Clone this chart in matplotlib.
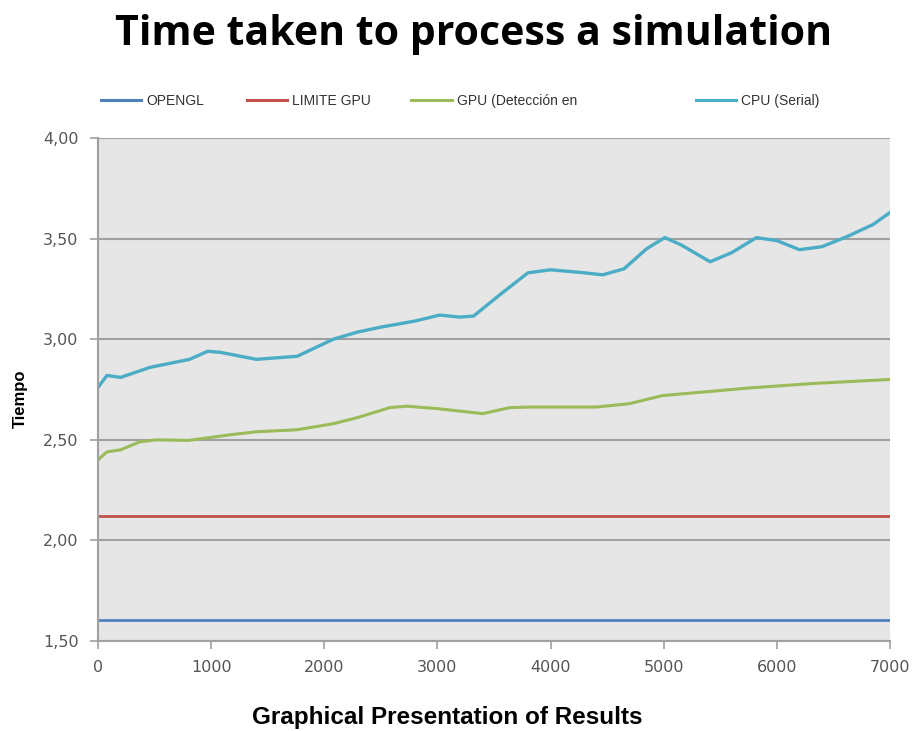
import matplotlib
matplotlib.use("Agg")
import matplotlib.pyplot as plt
from matplotlib.lines import Line2D
from matplotlib.ticker import FuncFormatter

# data
x_cpu = [0, 80, 200, 460, 810, 970, 1080, 1400, 1760, 2080, 2290, 2500, 2800,
         3020, 3200, 3320, 3550, 3800, 4000, 4300, 4460, 4650, 4850, 5010,
         5150, 5410, 5600, 5820, 6000, 6200, 6400, 6620, 6850, 7000]
cpu_serial = [2.76, 2.82, 2.81, 2.86, 2.90, 2.94, 2.935, 2.90, 2.915, 3.00,
              3.035, 3.06, 3.09, 3.12, 3.11, 3.115, 3.22, 3.33, 3.345, 3.33,
              3.32, 3.35, 3.45, 3.505, 3.47, 3.385, 3.43, 3.505, 3.49, 3.445,
              3.46, 3.51, 3.57, 3.63]

x_gpu = [0, 80, 200, 370, 520, 800, 1170, 1400, 1760, 2080, 2290, 2580,
         2730, 3000, 3400, 3640, 3820, 4410, 4700, 4990, 5400, 5740, 6320,
         7000]
gpu_deteccion = [2.40, 2.44, 2.45, 2.49, 2.50, 2.497, 2.525, 2.54, 2.55,
                 2.58, 2.61, 2.66, 2.667, 2.655, 2.63, 2.66, 2.663, 2.663,
                 2.68, 2.72, 2.74, 2.757, 2.78, 2.80]

x_const = [0, 7000]
limite_gpu = [2.12, 2.12]
opengl = [1.605, 1.605]

labels = ["OPENGL", "LIMITE GPU", "GPU (Detección en", "CPU (Serial)"]
colors = ["#4f81bd", "#c0504d", "#9bbb59", "#4bacc6"]

fig = plt.figure(figsize=(9.15, 7.31), dpi=100)
ax = fig.add_axes([0.107, 0.1231, 0.8657, 0.6881])

ax.set_facecolor("#e6e6e6")
ax.plot(x_const, opengl, color=colors[0], linewidth=2.0)
ax.plot(x_const, limite_gpu, color=colors[1], linewidth=2.0)
ax.plot(x_gpu, gpu_deteccion, color=colors[2], linewidth=2.2,
        solid_joinstyle="round")
ax.plot(x_cpu, cpu_serial, color=colors[3], linewidth=2.4,
        solid_joinstyle="round")

ax.set_xlim(0, 7000)
ax.set_ylim(1.5, 4.0)
ax.set_xticks(range(0, 7001, 1000))
ax.set_yticks([1.5, 2.0, 2.5, 3.0, 3.5, 4.0])
ax.yaxis.set_major_formatter(FuncFormatter(lambda v, p: f"{v:.2f}".replace(".", ",")))

ax.grid(axis="y", color="#a0a0a0", linewidth=1.5)
ax.set_axisbelow(True)
for side in ["top", "right"]:
    ax.spines[side].set_visible(False)
ax.spines["left"].set_color("#a0a0a0")
ax.spines["left"].set_linewidth(1.5)
ax.spines["bottom"].set_color("#a0a0a0")
ax.spines["bottom"].set_linewidth(1.5)
ax.tick_params(axis="both", colors="#a0a0a0", labelcolor="#555555",
               labelsize=11.5, length=6, width=1.2, direction="out")
ax.tick_params(axis="x", pad=8)
ax.tick_params(axis="y", pad=8)

fig.text(0.022, 0.455, "Tiempo", rotation=90, fontsize=12, fontweight="bold",
         ha="center", va="center", family="Liberation Sans")

fig.text(0.518, 0.953, "Time taken to process a simulation", fontsize=29.5,
         fontweight="bold", ha="center", va="center", family="Open Sans")
fig.text(0.489, 0.018, "Graphical Presentation of Results", fontsize=17.5,
         fontweight="bold", ha="center", va="center", family="Liberation Sans")

# legend entries spaced like the reference
legend_x = [0.103, 0.262, 0.442, 0.753]
for lx, lab, col in zip(legend_x, labels, colors):
    handle = Line2D([], [], color=col, linewidth=2.2)
    leg = fig.legend([handle], [lab], loc="center left",
                     bbox_to_anchor=(lx, 0.862), frameon=False,
                     handlelength=2.9, handletextpad=0.35, borderpad=0,
                     prop={"family": "Liberation Sans", "size": 10})
    for t in leg.get_texts():
        t.set_color("#333333")

fig.savefig("out.png", dpi=100)
